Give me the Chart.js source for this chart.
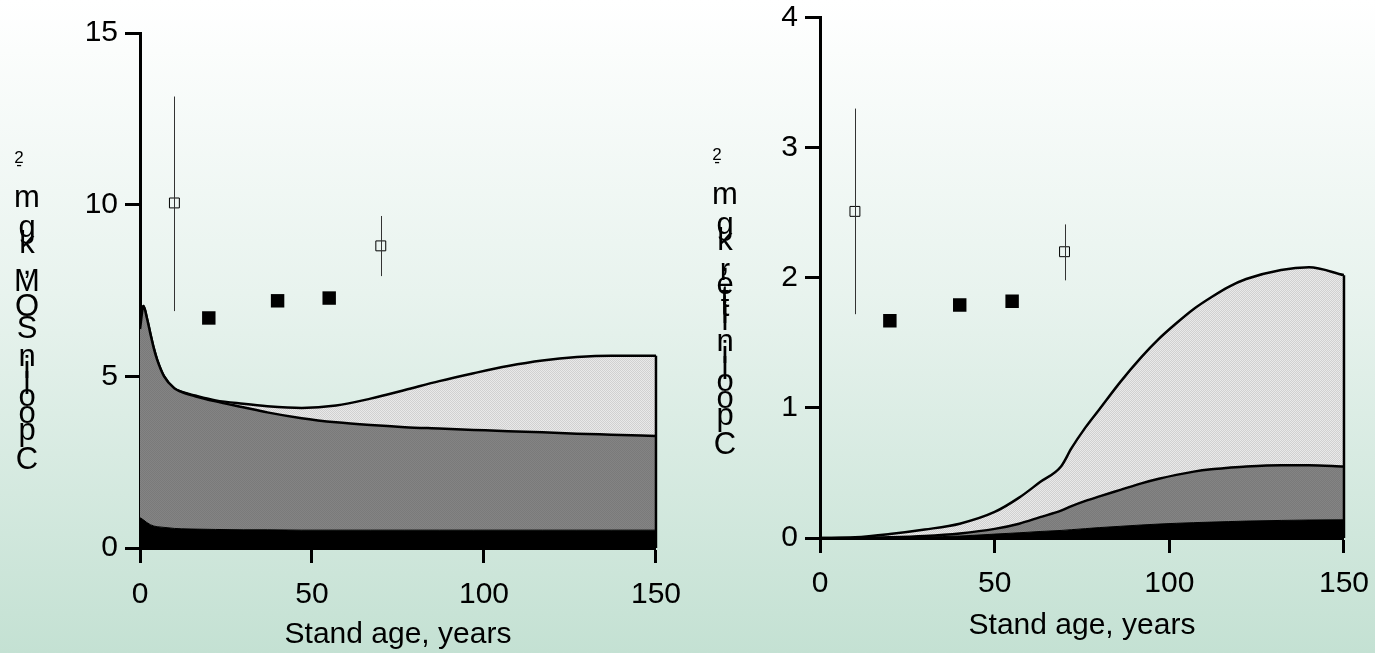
<!DOCTYPE html>
<html lang="en">
<head>
<meta charset="UTF-8">
<title>C pool vs stand age</title>
<script src="https://cdn.jsdelivr.net/npm/chart.js"></script>
<style>
  html, body { margin: 0; padding: 0; }
  body {
    width: 1375px; height: 653px; overflow: hidden; position: relative;
    background: linear-gradient(to bottom, #ffffff 0%, #e8f3ee 45%, #c4e1d3 100%);
  }
  .panel { position: absolute; top: 0; width: 695px; height: 653px; }
  #left { left: 0; }
  #right { left: 687px; }
</style>
</head>
<body>
<div class="panel" id="left"><canvas id="somChart"></canvas></div>
<div class="panel" id="right"><canvas id="litterChart"></canvas></div>

<script>
// ---- SOM panel (left) ----
const somAges  = [0, 1, 2, 3, 4, 5, 7, 10, 12, 16, 22, 30, 37, 47, 57, 67, 77, 87, 97, 107, 117, 127, 137, 150];
const somBlack = [0.88, 0.82, 0.74, 0.68, 0.64, 0.62, 0.6, 0.57, 0.56, 0.55, 0.54, 0.53, 0.53, 0.52, 0.52, 0.52, 0.52, 0.52, 0.52, 0.52, 0.52, 0.52, 0.52, 0.52];
const somGray  = [5.5, 6.23, 5.96, 5.57, 5.18, 4.86, 4.4, 4.08, 3.99, 3.87, 3.73, 3.57, 3.42, 3.26, 3.14, 3.06, 3.0, 2.96, 2.92, 2.88, 2.85, 2.81, 2.78, 2.74];
const somLight = [0, 0, 0, 0, 0, 0, 0, 0, 0, 0.02, 0.03, 0.1, 0.18, 0.3, 0.49, 0.77, 1.08, 1.38, 1.65, 1.9, 2.09, 2.23, 2.3, 2.34];
const somOpenAges = [10, 70];
const somOpenMean = [10.05, 8.8];
const somOpenLow  = [6.9, 7.92];
const somOpenHigh = [13.15, 9.67];
const somFilledAges = [20, 40, 55];
const somFilled     = [6.7, 7.2, 7.28];

// ---- litter panel (right) ----
const litAges  = [0, 10, 20, 30, 40, 50, 57, 63, 69, 72, 76, 80, 86, 92, 97, 102, 107, 112, 117, 122, 132, 140, 150];
const litBlack = [0, 0, 0.003, 0.008, 0.015, 0.03, 0.04, 0.05, 0.058, 0.064, 0.072, 0.08, 0.09, 0.1, 0.107, 0.113, 0.118, 0.122, 0.126, 0.13, 0.135, 0.138, 0.14];
const litGray  = [0, 0, 0.002, 0.007, 0.02, 0.04, 0.07, 0.11, 0.152, 0.181, 0.213, 0.24, 0.28, 0.32, 0.348, 0.372, 0.392, 0.406, 0.414, 0.42, 0.425, 0.422, 0.41];
const litLight = [0, 0.005, 0.025, 0.05, 0.075, 0.13, 0.2, 0.27, 0.34, 0.445, 0.565, 0.67, 0.83, 0.97, 1.075, 1.165, 1.25, 1.322, 1.39, 1.44, 1.5, 1.52, 1.47];
const litOpenAges = [10, 70];
const litOpenMean = [2.51, 2.2];
const litOpenLow  = [1.72, 1.98];
const litOpenHigh = [3.3, 2.41];
const litFilledAges = [20, 40, 55];
const litFilled     = [1.67, 1.79, 1.82];

const xTicks = [0, 50, 100, 150];
const FONT = "'Liberation Sans', Arial, sans-serif";
Chart.defaults.font.family = FONT;
Chart.defaults.color = '#000';

// small stipple patterns like the printed fills
function stipple(c1, c2) {
    const p = document.createElement('canvas');
    p.width = 2; p.height = 2;
    const g = p.getContext('2d');
    g.fillStyle = c1; g.fillRect(0, 0, 2, 2);
    g.fillStyle = c2; g.fillRect(0, 0, 1, 1); g.fillRect(1, 1, 1, 1);
    return g.createPattern(p, 'repeat');
}
const lightFill = stipple('#e9e9e9', '#d0d0d0');
const darkFill = stipple('#848484', '#7a7a7a');

const pts = (xs, ys) => xs.map((x, i) => ({ x: x, y: ys[i] }));

// error bars for the open squares
const errorBars = {
    id: 'errorBars',
    afterDatasetsDraw(chart, args, opts) {
        const { ctx, scales: { x, y } } = chart;
        ctx.save();
        ctx.strokeStyle = '#333';
        ctx.lineWidth = 1;
        opts.ages.forEach((a, i) => {
            const px = Math.round(x.getPixelForValue(a)) + 0.5;
            ctx.beginPath();
            ctx.moveTo(px, y.getPixelForValue(opts.high[i]));
            ctx.lineTo(px, y.getPixelForValue(opts.low[i]));
            ctx.stroke();
        });
        ctx.restore();
    }
};

// closing vertical edge of the stacked areas at the last age
const areaEdge = {
    id: 'areaEdge',
    afterDatasetsDraw(chart) {
        const meta = chart.getDatasetMeta(2);
        const last = meta.data[meta.data.length - 1];
        const ctx = chart.ctx;
        ctx.save();
        ctx.strokeStyle = '#000';
        ctx.lineWidth = 2.5;
        ctx.beginPath();
        ctx.moveTo(last.x, chart.scales.y.getPixelForValue(0));
        ctx.lineTo(last.x, last.y);
        ctx.stroke();
        ctx.restore();
    }
};

// y-axis title written as a column of upright letters, bottom to top
const stackedLabel = {
    id: 'stackedLabel',
    afterDraw(chart, args, opts) {
        const ctx = chart.ctx;
        ctx.save();
        ctx.fillStyle = '#000';
        ctx.textAlign = 'center';
        ctx.textBaseline = 'middle';
        ctx.font = '31px ' + FONT;
        const chars = opts.text.split('');
        let y = opts.bottom + ctx.measureText(chars[0]).width / 2;
        chars.forEach(ch => {
            const w = ctx.measureText(ch).width;
            y -= w / 2;
            if (ch !== ' ') ctx.fillText(ch, opts.x, y);
            y -= w / 2;
        });
        y -= opts.supGap;
        ctx.font = '17px ' + FONT;
        opts.sup.split('').forEach(ch => {
            const w = ctx.measureText(ch).width;
            y -= w / 2;
            ctx.fillText(ch, opts.x - 8, y);
            y -= w / 2;
        });
        ctx.restore();
    }
};

function makeChart(id, c) {
    const tickFont = { size: 30, family: FONT, lineHeight: 1.2 };
    const axisGrid = { display: true, drawOnChartArea: false, drawTicks: true, tickLength: 15, tickWidth: 3, tickColor: '#000' };
    const axisBorder = { display: true, color: '#000', width: 3 };
    return new Chart(document.getElementById(id), {
        type: 'line',
        data: {
            datasets: [
                { data: pts(c.ages, c.black), backgroundColor: '#000', borderColor: '#000', borderWidth: 1, fill: 'origin' },
                { data: pts(c.ages, c.gray), backgroundColor: darkFill, borderColor: '#000', borderWidth: 2.5, fill: '-1' },
                { data: pts(c.ages, c.light), backgroundColor: lightFill, borderColor: '#000', borderWidth: 2.5, fill: '-1' },
                { data: pts(c.openAges, c.openMean), stack: 'openObs', showLine: false, pointStyle: 'rect',
                  pointRadius: 7, pointBorderWidth: 1, pointBorderColor: '#000', pointBackgroundColor: 'rgba(0,0,0,0)' },
                { data: pts(c.filledAges, c.filled), stack: 'filledObs', showLine: false, pointStyle: 'rect',
                  pointRadius: 9.5, pointBorderWidth: 0, pointBackgroundColor: '#000' }
            ].map(d => Object.assign({ pointRadius: 0, cubicInterpolationMode: 'monotone' }, d))
        },
        options: {
            responsive: true,
            maintainAspectRatio: false,
            animation: false,
            events: [],
            layout: { padding: { top: c.top, right: 26, left: 0, bottom: 0 } },
            scales: {
                x: {
                    type: 'linear', min: 0, max: 150,
                    afterBuildTicks: s => { s.ticks = xTicks.map(v => ({ value: v })); },
                    ticks: { padding: c.xTickPad, font: tickFont, color: '#000', maxRotation: 0 },
                    grid: axisGrid, border: axisBorder,
                    title: { display: true, text: 'Stand age, years', color: '#000',
                             font: { size: 30, family: FONT, lineHeight: 1.2 }, padding: { top: 0, bottom: c.titlePad } },
                    afterFit: s => { s.height = c.xHeight; }
                },
                y: {
                    type: 'linear', stacked: true, min: 0, max: c.yMax,
                    ticks: { stepSize: c.yStep, padding: 7, font: { size: 30, family: FONT, lineHeight: 0.7 }, color: '#000' },
                    grid: axisGrid, border: axisBorder,
                    afterFit: s => { s.width = c.yWidth; }
                }
            },
            plugins: {
                legend: { display: false },
                tooltip: { enabled: false },
                errorBars: { ages: c.openAges, low: c.openLow, high: c.openHigh },
                stackedLabel: { text: c.label, sup: '-2', x: c.labelX, bottom: c.labelBottom, supGap: 17 }
            }
        },
        plugins: [errorBars, areaEdge, stackedLabel]
    });
}

makeChart('somChart', {
    ages: somAges, black: somBlack, gray: somGray, light: somLight,
    openAges: somOpenAges, openMean: somOpenMean, openLow: somOpenLow, openHigh: somOpenHigh,
    filledAges: somFilledAges, filled: somFilled,
    yMax: 15, yStep: 5, top: 33, yWidth: 140, xHeight: 105, xTickPad: 14, titlePad: 0,
    label: 'C pool in SOM, kg m', labelX: 27, labelBottom: 460
});

makeChart('litterChart', {
    ages: litAges, black: litBlack, gray: litGray, light: litLight,
    openAges: litOpenAges, openMean: litOpenMean, openLow: litOpenLow, openHigh: litOpenHigh,
    filledAges: litFilledAges, filled: litFilled,
    yMax: 4, yStep: 1, top: 16, yWidth: 133, xHeight: 115, xTickPad: 13, titlePad: 9,
    label: 'C pool in litter, kg m', labelX: 38, labelBottom: 445
});
</script>
</body>
</html>
